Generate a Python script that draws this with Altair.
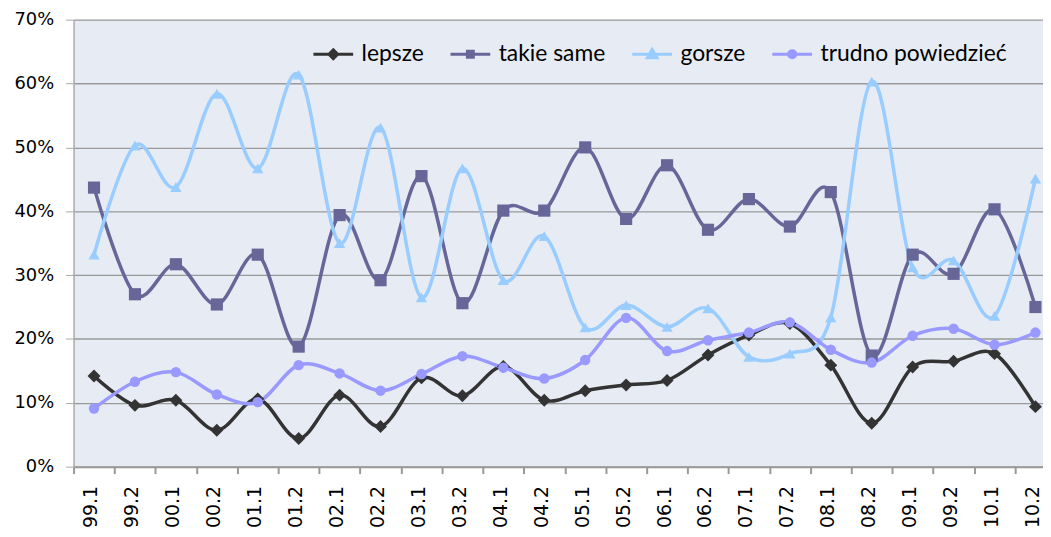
import altair as alt
import pandas as pd

cats = ["99.1", "99.2", "00.1", "00.2", "01.1", "01.2", "02.1", "02.2", "03.1", "03.2",
        "04.1", "04.2", "05.1", "05.2", "06.1", "06.2", "07.1", "07.2", "08.1", "08.2",
        "09.1", "09.2", "10.1", "10.2"]

series_names = ["lepsze", "takie same", "gorsze", "trudno powiedzieć"]

lepsze = [14.2, 9.6, 10.4, 5.7, 10.6, 4.4, 11.2, 6.3, 13.9, 11.1,
          15.7, 10.4, 11.9, 12.8, 13.5, 17.5, 20.6, 22.4, 15.9, 6.8,
          15.6, 16.5, 17.7, 9.4]
takie_same = [43.7, 27.0, 31.7, 25.4, 33.2, 18.8, 39.4, 29.2, 45.5, 25.6,
              40.1, 40.1, 50.0, 38.8, 47.2, 37.1, 41.9, 37.6, 43.0, 17.4,
              33.2, 30.2, 40.3, 25.0]
gorsze = [33.2, 50.3, 43.8, 58.4, 46.7, 61.4, 35.0, 53.1, 26.5, 46.7,
          29.2, 36.1, 21.8, 25.3, 21.9, 24.8, 17.2, 17.7, 23.4, 60.3,
          31.2, 32.3, 23.6, 45.1]
trudno = [9.1, 13.3, 14.8, 11.3, 10.1, 15.9, 14.6, 11.9, 14.5, 17.3,
          15.5, 13.8, 16.7, 23.3, 18.1, 19.8, 21.0, 22.6, 18.3, 16.3,
          20.5, 21.6, 19.1, 21.0]

colors = ["#333333", "#666699", "#99ccff", "#9999ff"]
shapes = ["diamond", "square", "triangle-up", "circle"]
marker_sizes = [170, 110, 230, 170]
legend_paths = [
    "M-1,0H1M0,-0.22L0.22,0L0,0.22L-0.22,0Z",
    "M-1,0H1M-0.15,-0.15H0.15V0.15H-0.15Z",
    "M-1,0H1M0,-0.24L0.24,0.18H-0.24Z",
    "M-1,0H1M-0.18,0A0.18,0.18 0 1,0 0.18,0A0.18,0.18 0 1,0 -0.18,0Z",
]

rows = []
for name, vals in zip(series_names, [lepsze, takie_same, gorsze, trudno]):
    for c, v in zip(cats, vals):
        rows.append({"okres": c, "wartosc": v, "seria": name})
df = pd.DataFrame(rows)

x_enc = alt.X(
    "okres:N",
    sort=cats,
    scale=alt.Scale(type="band", paddingInner=0, paddingOuter=0),
    axis=alt.Axis(
        title=None,
        labelAngle=270,
        labelFont="DejaVu Sans",
        labelFontSize=19,
        labelColor="#000000",
        labelPadding=12,
        labelOffset=-3,
        tickBand="extent",
        tickSize=7,
        tickColor="#999999",
        tickWidth=2,
        domainColor="#999999",
        domainWidth=2,
        grid=False,
    ),
)
y_enc = alt.Y(
    "wartosc:Q",
    scale=alt.Scale(domain=[0, 70], nice=False),
    axis=alt.Axis(
        title=None,
        values=[0, 10, 20, 30, 40, 50, 60, 70],
        labelExpr="datum.value + '%'",
        labelFont="DejaVu Sans",
        labelFontSize=18,
        labelColor="#000000",
        labelPadding=12,
        tickSize=8,
        tickColor="#aaaaaa",
        domainColor="#aaaaaa",
        domainWidth=1.5,
        grid=True,
        gridColor="#999999",
        gridWidth=1.3,
    ),
)
color_scale = alt.Scale(domain=series_names, range=colors)

lines = alt.Chart(df).mark_line(interpolate="cardinal", strokeWidth=3.5).encode(
    x=x_enc,
    y=y_enc,
    color=alt.Color("seria:N", scale=color_scale, legend=None),
    detail="seria:N",
)

points = alt.Chart(df).mark_point(filled=True, opacity=1).encode(
    x=x_enc,
    y=y_enc,
    color=alt.Color("seria:N", scale=color_scale, legend=None),
    shape=alt.Shape("seria:N", scale=alt.Scale(domain=series_names, range=shapes), legend=None),
    size=alt.Size("seria:N", scale=alt.Scale(domain=series_names, range=marker_sizes), legend=None),
)

leg = alt.Legend(
    orient="none", legendX=240, legendY=13, direction="horizontal",
    symbolSize=1600, symbolStrokeWidth=3, labelFont="Lato",
    labelFontSize=23, labelColor="#000000", labelOffset=7, labelLimit=0,
    columnPadding=20, title=None, symbolOpacity=1,
)

legend_layer = alt.Chart(df).transform_filter("false").mark_point(filled=True, strokeWidth=3, opacity=1).encode(
    x=x_enc,
    y=y_enc,
    fill=alt.Fill("seria:N", scale=alt.Scale(domain=series_names, range=colors), title=None, legend=leg),
    stroke=alt.Stroke("seria:N", scale=alt.Scale(domain=series_names, range=colors), title=None, legend=leg),
    shape=alt.Shape("seria:N", scale=alt.Scale(domain=series_names, range=legend_paths), title=None, legend=leg),
)

chart = alt.layer(lines, points, legend_layer).resolve_scale(
    shape="independent", fill="independent", stroke="independent"
).resolve_legend(
    shape="independent", fill="independent", stroke="independent"
).properties(
    width=989,
    height=450,
    autosize=alt.AutoSizeParams(type="none"),
    padding={"left": 66, "top": 10, "right": -13, "bottom": 60},
    background="#ffffff",
).configure_view(
    fill="#e7ecf4",
    stroke=None,
)

chart.save("out.html", embed_options={"renderer": "svg", "actions": False})
